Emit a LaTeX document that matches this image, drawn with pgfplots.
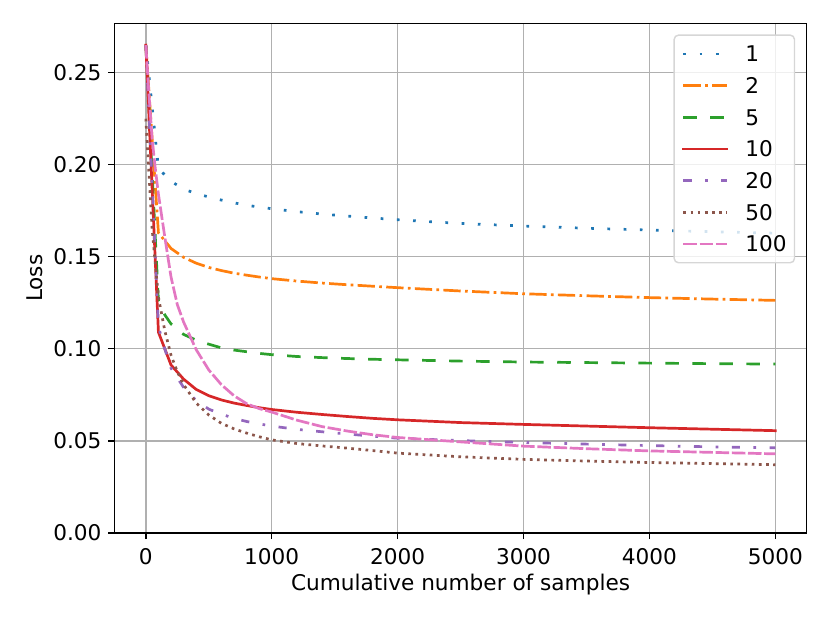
\documentclass[border=0pt]{standalone}
\usepackage{pgfplots}
\pgfplotsset{compat=1.18}
\usepackage{fontspec}
\setmainfont{DejaVu Sans}
\definecolor{c0}{HTML}{1F77B4}
\definecolor{c1}{HTML}{FF7F0E}
\definecolor{c2}{HTML}{2CA02C}
\definecolor{c3}{HTML}{D62728}
\definecolor{c4}{HTML}{9467BD}
\definecolor{c5}{HTML}{8C564B}
\definecolor{c6}{HTML}{E377C2}
\definecolor{gridc}{HTML}{B0B0B0}
\definecolor{legedge}{HTML}{D6D6D6}
\begin{document}
\fontsize{12}{14.4}\selectfont
\begin{tikzpicture}
\useasboundingbox (-63.5pt,-50.1pt) rectangle (397.3pt,295.8pt);
\begin{axis}[
  at={(0pt,0pt)}, anchor=south west,
  scale only axis, width=384.4pt, height=282.7pt,
  xmin=-250, xmax=5250, ymin=0, ymax=0.2767,
  xtick={0,1000,2000,3000,4000,5000},
  ytick={0,0.05,0.10,0.15,0.20,0.25},
  grid=major,
  major grid style={draw=gridc, line width=0.8pt},
  axis line style={line width=0.8pt},
  every tick/.style={black, line width=0.8pt},
  major tick length=3.5pt,
  tick align=outside,
  tick pos=left,
  /pgf/number format/assume math mode=true,
  tick label style={font=\fontsize{12}{14.4}\selectfont},
  xticklabel style={inner sep=0pt, anchor=north, yshift=-5.2pt, /pgf/number format/1000 sep={}},
  yticklabel style={inner sep=0pt, anchor=east, xshift=-3.5pt, /pgf/number format/.cd, fixed, fixed zerofill, precision=2},
  xlabel={Cumulative number of samples},
  ylabel={Loss},
  label style={font=\fontsize{12}{14.4}\selectfont, inner sep=0pt},
  xlabel style={at={(axis description cs:0.5,-0.11249)}, anchor=base},
  ylabel style={at={(axis description cs:-0.10354,0.5)}, anchor=base},
  legend style={at={(1,1)}, anchor=north east, xshift=-6.4pt, yshift=-6pt,
    draw=legedge, line width=0.8pt, rounded corners=2.4pt, fill=white, fill opacity=0.8, text opacity=1,
    inner xsep=4.4pt, inner ysep=6.1pt, row sep=8.82pt,
    font=\fontsize{12}{14.4}\selectfont,
    nodes={inner sep=0pt, text height=8.75pt, text depth=0pt},
    /tikz/every odd column/.append style={column sep=9.6pt}},
  legend cell align=left,
  legend image post style={line width=1.5pt},
  legend image code/.code={\draw[#1, rounded corners=0pt, line width=1.5pt] (0pt,0pt) -- (24pt,0pt);},
  every axis plot/.append style={line width=1.5pt, line join=round},
]
% 1
\addplot[c0, dash pattern=on 1.5pt off 7.5pt] coordinates {
(0,0.265) (100,0.198) (200,0.191) (300,0.1868) (400,0.1843) (500,0.1825) (600,0.1808) (700,0.1793) (800,0.178) (900,0.177) (1000,0.1761) (1200,0.1745) (1400,0.1732) (1600,0.1721) (1800,0.1711) (2000,0.1701) (2500,0.1681) (3000,0.1667) (3500,0.1655) (4000,0.1645) (4500,0.1636) (5000,0.1628)};
\addlegendentry{1}
% 2
\addplot[c1, dash pattern=on 9.6pt off 2.4pt on 1.5pt off 2.4pt] coordinates {
(0,0.265) (100,0.163) (200,0.1545) (300,0.1497) (400,0.1465) (500,0.1442) (600,0.1425) (700,0.1411) (800,0.14) (900,0.139) (1000,0.1381) (1200,0.1368) (1400,0.1357) (1600,0.1348) (1800,0.134) (2000,0.1332) (2500,0.1314) (3000,0.1299) (3500,0.1288) (4000,0.1278) (4500,0.127) (5000,0.1263)};
\addlegendentry{2}
% 5
\addplot[c2, dash pattern=on 7.5pt off 7.5pt] coordinates {
(0,0.265) (100,0.126) (150,0.1185) (200,0.1135) (300,0.1078) (400,0.1047) (500,0.1025) (600,0.1005) (700,0.0993) (800,0.0984) (900,0.0975) (1000,0.0968) (1200,0.0958) (1400,0.0952) (1600,0.0947) (1800,0.0943) (2000,0.094) (2500,0.0933) (3000,0.0928) (3500,0.0925) (4000,0.0922) (4500,0.0919) (5000,0.0917)};
\addlegendentry{5}
% 10
\addplot[c3, solid, line cap=rect] coordinates {
(0,0.265) (100,0.109) (200,0.0912) (300,0.0835) (400,0.0779) (500,0.0745) (600,0.0722) (700,0.0705) (800,0.0692) (900,0.068) (1000,0.067) (1200,0.0655) (1400,0.0643) (1600,0.0632) (1800,0.0622) (2000,0.0614) (2500,0.0599) (3000,0.0589) (3500,0.058) (4000,0.0571) (4500,0.0563) (5000,0.0555)};
\addlegendentry{10}
% 20
\addplot[c4, dash pattern=on 4.5pt off 7.5pt on 1.5pt off 7.5pt] coordinates {
(0,0.265) (50,0.19) (100,0.112) (150,0.1) (200,0.0895) (300,0.079) (400,0.0718) (500,0.0672) (600,0.0645) (700,0.0622) (800,0.0605) (900,0.0592) (1000,0.058) (1200,0.0562) (1400,0.0549) (1600,0.0537) (1800,0.0525) (2000,0.0514) (2500,0.0501) (3000,0.0491) (3500,0.0482) (4000,0.0474) (4500,0.0467) (5000,0.0462)};
\addlegendentry{20}
% 50
\addplot[c5, dash pattern=on 1.5pt off 2.475pt] coordinates {
(0,0.225) (50,0.165) (100,0.128) (150,0.11) (200,0.0965) (250,0.0875) (300,0.0805) (400,0.0705) (500,0.064) (600,0.0595) (700,0.0565) (800,0.0542) (900,0.0522) (1000,0.0505) (1200,0.0485) (1400,0.0472) (1600,0.046) (1800,0.0447) (2000,0.0433) (2500,0.0413) (3000,0.0399) (3500,0.039) (4000,0.0382) (4500,0.0376) (5000,0.037)};
\addlegendentry{50}
% 100
\addplot[c6, dash pattern=on 7.5pt off 1.5pt] coordinates {
(0,0.265) (25,0.238) (50,0.214) (75,0.198) (100,0.184) (150,0.161) (200,0.139) (250,0.124) (300,0.1145) (400,0.0995) (500,0.0885) (600,0.0805) (700,0.0745) (800,0.0702) (900,0.0675) (1000,0.0656) (1200,0.0612) (1400,0.0577) (1600,0.0553) (1800,0.0533) (2000,0.0518) (2500,0.0494) (3000,0.0471) (3500,0.0457) (4000,0.0445) (4500,0.0437) (5000,0.0429)};
\addlegendentry{100}
\end{axis}
\end{tikzpicture}
\end{document}
